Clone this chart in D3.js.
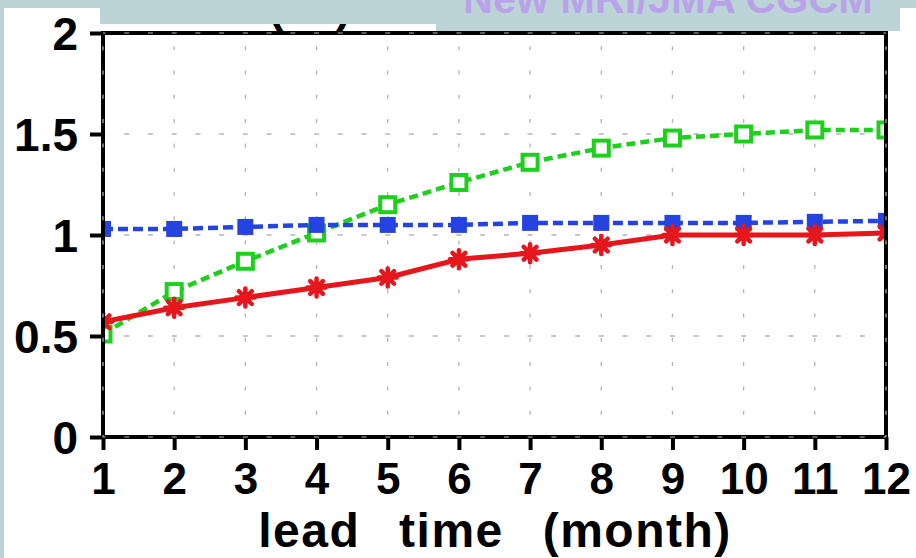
<!DOCTYPE html>
<html>
<head>
<meta charset="utf-8">
<script src="https://cdn.jsdelivr.net/npm/d3@7"></script>
<style>
  html, body { margin: 0; padding: 0; background: #bcd4d8; }
  svg { display: block; }
  text { font-family: "Liberation Sans", Arial, sans-serif; font-weight: bold; }
</style>
</head>
<body>
<svg id="chart" width="916" height="558"></svg>
<script>
// Lead months and the three skill curves
const leadMonths = [1, 2, 3, 4, 5, 6, 7, 8, 9, 10, 11, 12];
const redSeries   = [0.57, 0.64, 0.69, 0.74, 0.79, 0.88, 0.91, 0.95, 1.00, 1.00, 1.00, 1.01];
const greenSeries = [0.51, 0.72, 0.87, 1.01, 1.15, 1.26, 1.36, 1.43, 1.48, 1.50, 1.52, 1.52];
const blueSeries  = [1.03, 1.03, 1.04, 1.05, 1.05, 1.05, 1.06, 1.06, 1.06, 1.06, 1.065, 1.07];
const yTicks = [0, 0.5, 1, 1.5, 2];
const xTitle = "lead time (month)";
const modelTitle = "New MRI/JMA CGCM";

const svg = d3.select("#chart");

// page background: white sheet with a tinted header strip
svg.append("rect").attr("width", 916).attr("height", 558).attr("fill", "#bcd4d8");
svg.append("rect").attr("x", 4).attr("y", 8).attr("width", 912).attr("height", 550).attr("fill", "#fff");

const x = d3.scaleLinear().domain([1, 12]).range([103, 886]);
const y = d3.scaleLinear().domain([0, 2]).range([437, 33]);
const [x0, x1] = x.range();
const [yb, yt] = y.range();

// partially covered plot heading
svg.append("text").attr("x", 268).attr("y", 21).attr("font-size", 46).attr("fill", "#000").text("(");
svg.append("text").attr("x", 336).attr("y", 21).attr("font-size", 46).attr("fill", "#000").text(")");

// header strip covering the top
svg.append("rect").attr("x", 100).attr("y", 0).attr("width", 800).attr("height", 24).attr("fill", "#bcd4d8");
svg.append("rect").attr("x", 436).attr("y", 0).attr("width", 464).attr("height", 31).attr("fill", "#bcd4d8");

svg.append("text")
  .attr("x", 463).attr("y", 13)
  .attr("font-size", 42)
  .attr("fill", "#b9a2e8")
  .attr("textLength", 410)
  .attr("lengthAdjust", "spacingAndGlyphs")
  .text(modelTitle);

// dotted grid
const hPeriod = (x(2) - x(1)) / 3;
const gridG = svg.append("g").attr("stroke", "#b4b4b4").attr("stroke-width", 1.3).attr("fill", "none");
function hGrid(g, vals) {
  g.selectAll(null).data(vals).join("line")
    .attr("x1", x0).attr("x2", x1)
    .attr("y1", d => y(d)).attr("y2", d => y(d))
    .attr("stroke-dasharray", `5,${hPeriod - 5}`)
    .attr("stroke-dashoffset", 2.5);
}
function vGrid(g, vals) {
  g.selectAll(null).data(vals).join("line")
    .attr("x1", d => x(d)).attr("x2", d => x(d))
    .attr("y1", yb).attr("y2", yt)
    .attr("stroke-dasharray", "4,20.3")
    .attr("stroke-dashoffset", 2);
}
hGrid(gridG, [0.5, 1, 1.5]);
vGrid(gridG, leadMonths.slice(1, -1));

// series, clipped to the plot frame
svg.append("clipPath").attr("id", "plotClip")
  .append("rect").attr("x", x0).attr("y", yt - 10).attr("width", x1 - x0).attr("height", yb - yt + 20);

const plot = svg.append("g").attr("clip-path", "url(#plotClip)");
const line = d3.line().x((d, i) => x(leadMonths[i])).y(d => y(d));

// green: dashed with open squares
plot.append("path").datum(greenSeries)
  .attr("d", line).attr("fill", "none")
  .attr("stroke", "#1ecf1e").attr("stroke-width", 4.5)
  .attr("stroke-dasharray", "9,5");
plot.selectAll(".gsq").data(greenSeries).join("rect")
  .attr("x", (d, i) => x(leadMonths[i]) - 7.5).attr("y", d => y(d) - 7.5)
  .attr("width", 15).attr("height", 15)
  .attr("fill", "#fff").attr("stroke", "#1ecf1e").attr("stroke-width", 4);

// blue: dashed with filled squares
plot.append("path").datum(blueSeries)
  .attr("d", line).attr("fill", "none")
  .attr("stroke", "#2443df").attr("stroke-width", 4.5)
  .attr("stroke-dasharray", "10,5");
plot.selectAll(".bsq").data(blueSeries).join("rect")
  .attr("x", (d, i) => x(leadMonths[i]) - 8).attr("y", d => y(d) - 8)
  .attr("width", 16).attr("height", 16)
  .attr("fill", "#2443df");

// red: solid with asterisks
plot.append("path").datum(redSeries)
  .attr("d", line).attr("fill", "none")
  .attr("stroke", "#e5161c").attr("stroke-width", 5);
const star = (() => {
  const r = 9, p = d3.path();
  for (let k = 0; k < 4; k++) {
    const a = k * Math.PI / 4;
    p.moveTo(-r * Math.cos(a), -r * Math.sin(a));
    p.lineTo(r * Math.cos(a), r * Math.sin(a));
  }
  return p.toString();
})();
plot.selectAll(".rst").data(redSeries).join("path")
  .attr("transform", (d, i) => `translate(${x(leadMonths[i])},${y(d)})`)
  .attr("d", star)
  .attr("fill", "none").attr("stroke", "#e5161c").attr("stroke-width", 4.5).attr("stroke-linecap", "round");
plot.selectAll(".rdot").data(redSeries).join("circle")
  .attr("cx", (d, i) => x(leadMonths[i])).attr("cy", d => y(d)).attr("r", 6)
  .attr("fill", "#e5161c");

// axes
const yAxis = d3.axisLeft(y).tickValues(yTicks).tickFormat(d3.format("")).tickSize(13).tickPadding(12);
const xAxis = d3.axisBottom(x).tickValues(leadMonths).tickFormat(d3.format("d")).tickSize(13).tickPadding(13);

const gy = svg.append("g").attr("transform", `translate(${x0},0)`).call(yAxis);
const gx = svg.append("g").attr("transform", `translate(0,${yb})`).call(xAxis);
[gy, gx].forEach(g => {
  g.select(".domain").remove();
  g.selectAll(".tick line").attr("stroke", "#000").attr("stroke-width", 4);
  g.selectAll(".tick text").attr("fill", "#000").attr("font-family", "Liberation Sans, Arial, sans-serif").attr("font-weight", "bold");
});
gy.selectAll(".tick text").attr("font-size", 46).attr("dy", "0.36em");
gx.selectAll(".tick text").attr("font-size", 44);

// frame
svg.append("rect")
  .attr("x", x0).attr("y", yt).attr("width", x1 - x0).attr("height", yb - yt)
  .attr("fill", "none").attr("stroke", "#000").attr("stroke-width", 4);

// grid marks over the frame edges
const edgeG = svg.append("g").attr("stroke", "#b8b8b8").attr("stroke-width", 1.2).attr("fill", "none");
hGrid(edgeG, [0, 2]);
vGrid(edgeG, [1, 12]);

// axis title
svg.append("text")
  .attr("x", 495).attr("y", 547)
  .attr("text-anchor", "middle")
  .attr("font-size", 48)
  .attr("letter-spacing", 1.5)
  .attr("word-spacing", 24)
  .attr("fill", "#000")
  .text(xTitle);
</script>
</body>
</html>
